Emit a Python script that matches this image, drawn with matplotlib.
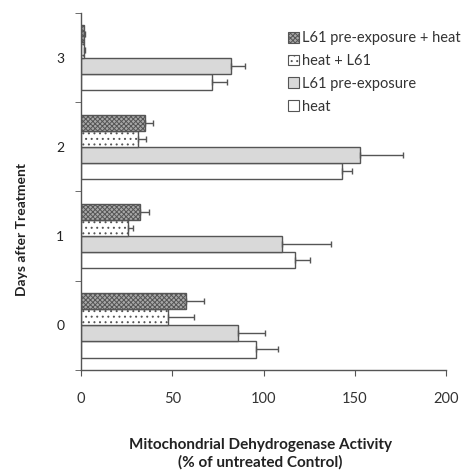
import matplotlib
matplotlib.use("Agg")
import matplotlib.pyplot as plt
import numpy as np
from matplotlib.patches import Patch

plt.rcParams['font.family'] = ['Lato', 'DejaVu Sans']
plt.rcParams['hatch.linewidth'] = 0.7
plt.rcParams['hatch.color'] = '#555555'

days = ["0", "1", "2", "3"]
series = ["heat", "L61 pre-exposure", "heat + L61", "L61 pre-exposure + heat"]
values = {
    "heat": [96, 117, 143, 72],
    "L61 pre-exposure": [86, 110, 153, 82],
    "heat + L61": [47.5, 26, 31, 1.8],
    "L61 pre-exposure + heat": [57.5, 32.5, 35, 1.8],
}
errors = {
    "heat": [12, 8.5, 5.5, 8],
    "L61 pre-exposure": [15, 27, 23.5, 8],
    "heat + L61": [14.5, 2.5, 4.5, 0.6],
    "L61 pre-exposure + heat": [10, 4.5, 4.5, 0.6],
}
styles = {
    "heat": dict(facecolor="white", hatch=None),
    "L61 pre-exposure": dict(facecolor="#d9d9d9", hatch=None),
    "heat + L61": dict(facecolor="white", hatch="..."),
    "L61 pre-exposure + heat": dict(facecolor="#a8a8a8", hatch="xxxxxxx"),
}

fig = plt.figure(figsize=(4.61, 4.72), dpi=100)
ax = fig.add_axes([0.1757, 0.2161, 0.7918, 0.7564])

y = np.arange(len(days))
h = 0.18
offsets = [-1.5 * h, -0.5 * h, 0.5 * h, 1.5 * h]
for s, off in zip(series, offsets):
    st = styles[s]
    err = np.array(errors[s])
    ax.barh(y + off, values[s], height=h, facecolor=st["facecolor"], hatch=st["hatch"],
            edgecolor="#555555", linewidth=1.0,
            xerr=[np.zeros_like(err), err],
            error_kw=dict(ecolor="#555555", elinewidth=1.0, capsize=2.5, capthick=1.0))

ax.set_xlim(0, 200)
ax.set_ylim(-0.5, 3.5)
ax.set_xticks([0, 50, 100, 150, 200])
ax.set_yticks(y)
ax.set_yticklabels(days)
ax.set_yticks(np.arange(-0.5, 3.6, 1.0), minor=True)
ax.tick_params(axis='y', which='major', length=0, pad=12, labelsize=10, labelcolor="#222222")
ax.tick_params(axis='y', which='minor', length=4, direction='out', color="#555555")
ax.tick_params(axis='x', length=4, direction='out', color="#555555", pad=12, labelsize=10.5,
               labelcolor="#333333")
for sp in ["top", "right"]:
    ax.spines[sp].set_visible(False)
for sp in ["left", "bottom"]:
    ax.spines[sp].set_color("#555555")
    ax.spines[sp].set_linewidth(1.0)

handles = [Patch(facecolor=styles[s]["facecolor"], hatch=styles[s]["hatch"],
                 edgecolor="#555555", linewidth=0.8) for s in series[::-1]]
ax.legend(handles, series[::-1], loc="upper left", bbox_to_anchor=(0.55, 0.965),
          frameon=False, fontsize=10.5, handlelength=0.75, handleheight=0.75,
          handletextpad=0.25, labelspacing=0.6, borderaxespad=0, labelcolor="#333333")

fig.text(0.565, 1 - 454 / 472, "Mitochondrial Dehydrogenase Activity\n(% of untreated Control)",
         ha="center", va="center", fontsize=11, fontweight="bold", linespacing=1.25,
         color="#222222")
fig.text(0.048, 1 - 230 / 472, "Days after Treatment", rotation=90, ha="center", va="center",
         fontsize=10, fontweight="bold", color="#222222")

fig.savefig("out.png", dpi=100)
